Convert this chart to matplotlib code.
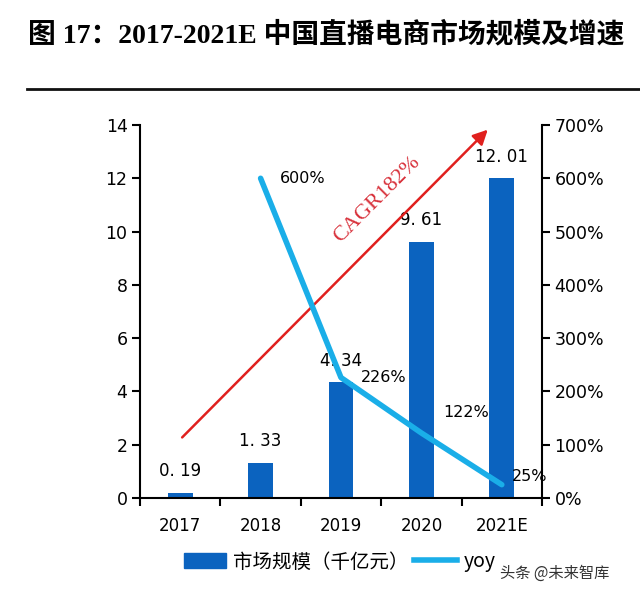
import numpy as np
import matplotlib.pyplot as plt
from matplotlib.lines import Line2D
from matplotlib.patches import Patch

plt.rcParams['font.family'] = ['DejaVu Sans', 'Noto Sans CJK SC']

years = ['2017', '2018', '2019', '2020', '2021E']
market = [0.19, 1.33, 4.34, 9.61, 12.01]
market_labels = ['0. 19', '1. 33', '4. 34', '9. 61', '12. 01']
yoy = [600, 226, 122, 25]           # %, from 2018 on
yoy_labels = ['600%', '226%', '122%', '25%']

bar_color = '#0B63BF'
line_color = '#1AAEE8'
red = '#E0201E'

fig = plt.figure(figsize=(6.4, 5.94), dpi=100)
ax = fig.add_axes([140/640, 1-498/594, 402/640, 373/594])
ax2 = ax.twinx()

x = np.arange(len(years))
ax.bar(x, market, width=0.31, color=bar_color, zorder=2)
for xi, v, lab in zip(x, market, market_labels):
    ax.annotate(lab, (xi, v), xytext=(0, 9), textcoords='offset points',
                ha='center', va='bottom', fontsize=12)

xl = x[1:]
ax2.plot(xl, yoy, color=line_color, lw=4, solid_capstyle='round', zorder=3)
offs = [(30, 0), (31, 0), (32, 15), (20, 6)]
for xi, v, lab, o in zip(xl, yoy, yoy_labels, offs):
    ax2.annotate(lab, (xi, v), xytext=o, textcoords='offset points',
                 ha='center', va='center', fontsize=11.5)

# CAGR arrow
ax.annotate('', xy=(3.85, 13.9), xytext=(0.0, 2.2),
            arrowprops=dict(arrowstyle='-|>', color=red, lw=1.8,
                            mutation_scale=22))
ax.text(2.45, 11.2, 'CAGR182%', color='#D8303A', rotation=45, fontsize=16,
        family='Liberation Serif', ha='center', va='center')

ax.set_xlim(-0.5, 4.5)
ax.set_ylim(0, 14)
ax.set_yticks(range(0, 15, 2))
ax2.set_ylim(0, 700)
ax2.set_yticks(range(0, 701, 100))
ax2.set_yticklabels([f'{v}%' for v in range(0, 701, 100)])

ax.set_xticks(x)
ax.set_xticklabels(years)
ax.set_xticks(np.arange(-0.5, 4.6, 1), minor=True)
ax.tick_params(axis='x', which='major', length=0, labelsize=12, pad=14)
ax.tick_params(axis='x', which='minor', length=6, width=1.5, direction='out')
ax.tick_params(axis='y', length=6, width=1.5, labelsize=12.5, pad=3)
ax2.tick_params(axis='y', length=6, width=1.5, labelsize=12.5, pad=3)

for a in (ax, ax2):
    a.spines['top'].set_visible(False)
    for s in ('left', 'right', 'bottom'):
        a.spines[s].set_linewidth(1.5)
ax.spines['right'].set_visible(False)
ax2.spines['left'].set_visible(False)
ax2.spines['bottom'].set_visible(False)

# title and rule
fig.text(28/640, 1-35/594, '图 17：2017-2021E 中国直播电商市场规模及增速',
         fontsize=20, fontweight='bold', va='center', ha='left',
         family=['Liberation Serif', 'Noto Sans CJK SC'])
fig.add_artist(Line2D([27/640, 1.0], [1-89/594]*2, color='#111111', lw=2))

handles = [Patch(color=bar_color), Line2D([], [], color=line_color, lw=4)]
fig.legend(handles, ['市场规模（千亿元）', 'yoy'], loc='center left',
           bbox_to_anchor=(166/640, 1-562/594), ncol=2, frameon=False,
           handlelength=2.2, handleheight=0.8,
           columnspacing=0.3, handletextpad=0.35,
           prop={'family': ['Noto Sans CJK SC'], 'size': 14})

fig.text(500/640, 1-573/594, '头条 @未来智库', fontsize=11, color='#333333',
         va='center', ha='left', family=['Noto Sans CJK SC'])

fig.savefig('out.png', dpi=100)
